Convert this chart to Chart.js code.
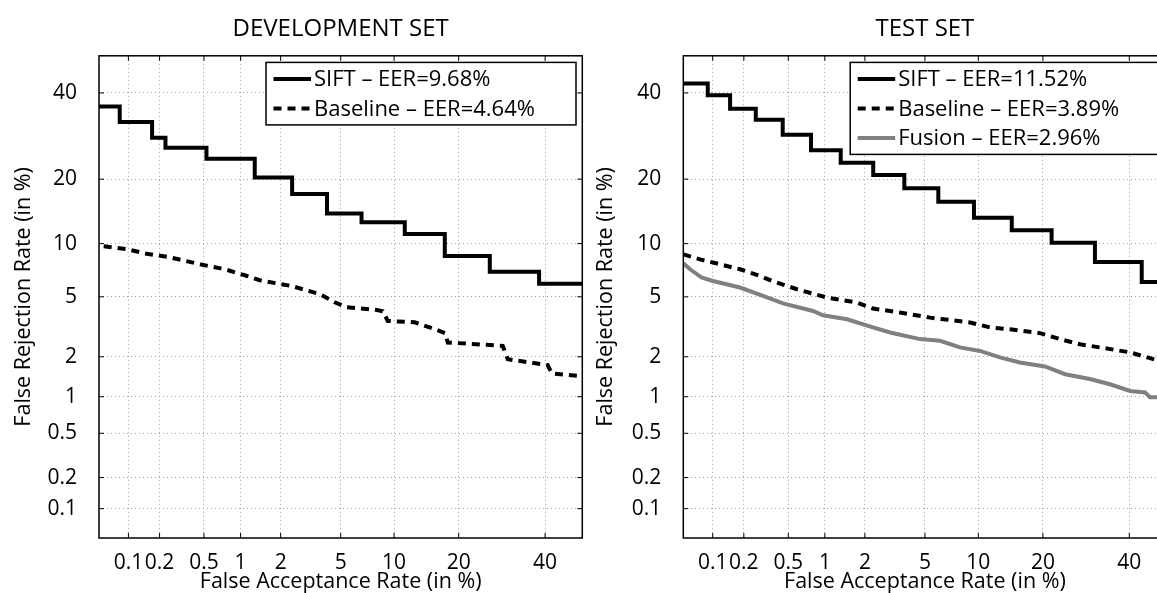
<!DOCTYPE html>
<html>
<head>
<meta charset="utf-8">
<script src="https://cdn.jsdelivr.net/npm/chart.js@4.4.1/dist/chart.umd.min.js"></script>
<style>
  body { margin: 0; overflow: hidden; background: #fff; width: 1157px; height: 593px; position: relative; }
  .panel { position: absolute; top: 0; width: 590px; height: 593px; }
</style>
</head>
<body>
<div class="panel" style="left:0"><canvas id="dev" width="590" height="593"></canvas></div>
<div class="panel" style="left:590px"><canvas id="test" width="590" height="593"></canvas></div>
<script>
// axis ticks (percent)
const tickValues = [0.1, 0.2, 0.5, 1, 2, 5, 10, 20, 40];
const tickLabels = ['0.1', '0.2', '0.5', '1', '2', '5', '10', '20', '40'];
const axisMin = 0.05;
const axisMax = 50;

// DEVELOPMENT SET
const devSiftFar = [0.05, 0.0818, 0.170, 0.227, 0.525, 1.287, 2.41, 4.11, 6.64, 11.34, 17.46, 26.44, 38.43, 50];
const devSiftFrr = [36.5, 32.6, 28.8, 26.5, 24.1, 20.3, 17.3, 14.1, 12.8, 11.2, 8.6, 7.04, 6.0, 6.0];
const devBaseFar = [0.056, 0.0984, 0.1445, 0.248, 0.508, 0.746, 1.078, 1.405, 2.43, 3.69, 4.60, 5.44, 8.09, 8.72, 9.27, 12.7, 16.1, 17.5, 17.99, 29.4, 30.6, 40.7, 41.8, 50];
const devBaseFrr = [9.68, 9.33, 8.88, 8.46, 7.64, 7.26, 6.71, 6.28, 5.79, 5.19, 4.63, 4.31, 4.14, 4.07, 3.52, 3.45, 3.07, 2.92, 2.52, 2.39, 1.92, 1.74, 1.51, 1.44];

// TEST SET
const testSiftFar = [0.05, 0.0892, 0.148, 0.258, 0.448, 0.774, 1.326, 2.29, 3.71, 6.01, 9.49, 14.6, 21.7, 31.3, 43.3, 50];
const testSiftFrr = [42.5, 39.4, 35.9, 33.1, 29.5, 25.97, 23.3, 20.8, 18.3, 15.95, 13.46, 11.68, 10.11, 7.97, 6.14, 6.14];
const testBaseFar = [0.05, 0.0746, 0.118, 0.184, 0.282, 0.361, 0.593, 1.04, 1.75, 2.28, 3.48, 5.36, 9.04, 11.47, 14.33, 19.45, 23.4, 27.8, 32.5, 40.2, 47.4, 50];
const testBaseFrr = [8.77, 8.24, 7.74, 7.26, 6.65, 6.22, 5.56, 4.95, 4.61, 4.23, 3.99, 3.70, 3.44, 3.19, 3.10, 2.92, 2.66, 2.45, 2.33, 2.15, 1.89, 1.85];
const testFusionFar = [0.05, 0.0588, 0.078, 0.1007, 0.184, 0.300, 0.451, 0.804, 0.967, 1.48, 2.28, 2.99, 4.66, 6.15, 7.98, 10.2, 12.84, 15.9, 20.4, 24.5, 30.1, 35.0, 40.2, 44.2, 45.5, 50];
const testFusionFrr = [7.84, 7.26, 6.49, 6.22, 5.69, 5.07, 4.56, 4.08, 3.83, 3.61, 3.19, 2.95, 2.66, 2.59, 2.33, 2.20, 1.98, 1.82, 1.70, 1.49, 1.37, 1.25, 1.11, 1.08, 0.99, 0.99];

const FONT = "'Open Sans', 'DejaVu Sans', sans-serif";

// inverse of the normal cdf (Acklam)
function probit(p) {
    const a = [-39.69683028665376, 220.9460984245205, -275.9285104469687, 138.3577518672690, -30.66479806614716, 2.506628277459239];
    const b = [-54.47609879822406, 161.5858368580409, -155.6989798598866, 66.80131188771972, -13.28068155288572];
    const c = [-0.007784894002430293, -0.3223964580411365, -2.400758277161838, -2.549732539343734, 4.374664141464968, 2.938163982698783];
    const d = [0.007784695709041462, 0.3224671290700398, 2.445134137142996, 3.754408661907416];
    const pl = 0.02425;
    let q, r;
    if (p < pl) {
        q = Math.sqrt(-2 * Math.log(p));
        return (((((c[0]*q+c[1])*q+c[2])*q+c[3])*q+c[4])*q+c[5]) / ((((d[0]*q+d[1])*q+d[2])*q+d[3])*q+1);
    } else if (p <= 1 - pl) {
        q = p - 0.5; r = q * q;
        return (((((a[0]*r+a[1])*r+a[2])*r+a[3])*r+a[4])*r+a[5])*q / (((((b[0]*r+b[1])*r+b[2])*r+b[3])*r+b[4])*r+1);
    }
    q = Math.sqrt(-2 * Math.log(1 - p));
    return -(((((c[0]*q+c[1])*q+c[2])*q+c[3])*q+c[4])*q+c[5]) / ((((d[0]*q+d[1])*q+d[2])*q+d[3])*q+1);
}

function toPoints(far, frr) {
    return far.map((v, i) => ({ x: probit(v / 100), y: probit(frr[i] / 100) }));
}

// box with inward ticks on all four sides
const frameBox = {
    id: 'frameBox',
    afterDatasetsDraw(chart) {
        const { ctx, chartArea: a, scales } = chart;
        ctx.save();
        ctx.strokeStyle = '#000';
        ctx.lineWidth = 1.5;
        ctx.strokeRect(a.left, a.top, a.right - a.left, a.bottom - a.top);
        ctx.beginPath();
        tickValues.forEach(v => {
            const px = scales.x.getPixelForValue(probit(v / 100));
            ctx.moveTo(px, a.bottom); ctx.lineTo(px, a.bottom - 5);
            ctx.moveTo(px, a.top); ctx.lineTo(px, a.top + 5);
            const py = scales.y.getPixelForValue(probit(v / 100));
            ctx.moveTo(a.left, py); ctx.lineTo(a.left + 5, py);
            ctx.moveTo(a.right, py); ctx.lineTo(a.right - 5, py);
        });
        ctx.lineWidth = 1;
        ctx.stroke();
        ctx.restore();
    }
};

// legend drawn inside the axes, top right
const insideLegend = {
    id: 'insideLegend',
    afterDraw(chart) {
        const { ctx, chartArea: a } = chart;
        const sets = chart.data.datasets;
        const w = 310, rowH = 29.5;
        const h = 33 + rowH * (sets.length - 1);
        const left = a.right - 6.3 - w;
        const top = a.top + 6.6;
        ctx.save();
        ctx.fillStyle = '#fff';
        ctx.fillRect(left, top, w, h);
        ctx.strokeStyle = '#000';
        ctx.lineWidth = 1.5;
        ctx.strokeRect(left, top, w, h);
        ctx.font = '22px ' + FONT;
        ctx.textBaseline = 'middle';
        sets.forEach((ds, i) => {
            const y = top + 16.7 + i * rowH;
            ctx.beginPath();
            ctx.strokeStyle = ds.borderColor;
            ctx.lineWidth = ds.borderWidth;
            ctx.setLineDash(ds.borderDash || []);
            ctx.moveTo(left + 7.5, y);
            ctx.lineTo(left + 45, y);
            ctx.stroke();
            ctx.setLineDash([]);
            ctx.fillStyle = '#000';
            ctx.fillText(ds.label, left + 48, y + 1);
        });
        ctx.restore();
    }
};

function makeOptions(title, yWidth, padRight, yTitlePad) {
    return {
        responsive: false,
        animation: false,
        layout: { padding: { left: 0, right: padRight, top: 0, bottom: 0 } },
        plugins: {
            legend: { display: false },
            tooltip: { enabled: false },
            title: {
                display: true, text: title, fullSize: false, color: '#000',
                font: { family: FONT, size: 24, weight: 'normal' },
                padding: { top: 15, bottom: 12 }
            }
        },
        elements: { point: { radius: 0 }, line: { tension: 0 } },
        scales: {
            x: {
                type: 'linear',
                min: probit(axisMin / 100), max: probit(axisMax / 100),
                afterFit: s => { s.height = 55; },
                afterBuildTicks: s => { s.ticks = tickValues.map(v => ({ value: probit(v / 100) })); },
                ticks: {
                    autoSkip: false, maxRotation: 0, minRotation: 0, padding: 12, color: '#000',
                    font: { family: FONT, size: 21 },
                    callback: (v, i) => tickLabels[i]
                },
                grid: { color: '#a0a0a0', lineWidth: 1, drawTicks: false },
                border: { display: false, dash: [1, 3] },
                title: {
                    display: true, text: 'False Acceptance Rate (in %)', color: '#000',
                    font: { family: FONT, size: 21.5 }, padding: { top: 0, bottom: -2 }
                }
            },
            y: {
                type: 'linear',
                min: probit(axisMin / 100), max: probit(axisMax / 100),
                afterFit: s => { s.width = yWidth; },
                afterBuildTicks: s => { s.ticks = tickValues.map(v => ({ value: probit(v / 100) })); },
                ticks: {
                    autoSkip: false, padding: 22, color: '#000',
                    font: { family: FONT, size: 21 },
                    callback: (v, i) => tickLabels[i]
                },
                grid: { color: '#a0a0a0', lineWidth: 1, drawTicks: false },
                border: { display: false, dash: [1, 3] },
                title: {
                    display: true, text: 'False Rejection Rate (in %)', color: '#000',
                    font: { family: FONT, size: 21.5 }, padding: { top: yTitlePad, bottom: 0 }
                }
            }
        }
    };
}

const siftStyle = { borderColor: '#000', borderWidth: 4, stepped: true };
const baseStyle = { borderColor: '#000', borderWidth: 4, borderDash: [8, 6] };
const fusionStyle = { borderColor: '#808080', borderWidth: 4 };

new Chart(document.getElementById('dev'), {
    type: 'line',
    data: {
        datasets: [
            Object.assign({ label: 'SIFT – EER=9.68%', data: toPoints(devSiftFar, devSiftFrr) }, siftStyle),
            Object.assign({ label: 'Baseline – EER=4.64%', data: toPoints(devBaseFar, devBaseFrr) }, baseStyle)
        ]
    },
    options: makeOptions('DEVELOPMENT SET', 99, 7.7, 11),
    plugins: [frameBox, insideLegend]
});

new Chart(document.getElementById('test'), {
    type: 'line',
    data: {
        datasets: [
            Object.assign({ label: 'SIFT – EER=11.52%', data: toPoints(testSiftFar, testSiftFrr) }, siftStyle),
            Object.assign({ label: 'Baseline – EER=3.89%', data: toPoints(testBaseFar, testBaseFrr) }, baseStyle),
            Object.assign({ label: 'Fusion – EER=2.96%', data: toPoints(testFusionFar, testFusionFrr) }, fusionStyle)
        ]
    },
    options: makeOptions('TEST SET', 93.3, 13.5, 3),
    plugins: [frameBox, insideLegend]
});
</script>
</body>
</html>
